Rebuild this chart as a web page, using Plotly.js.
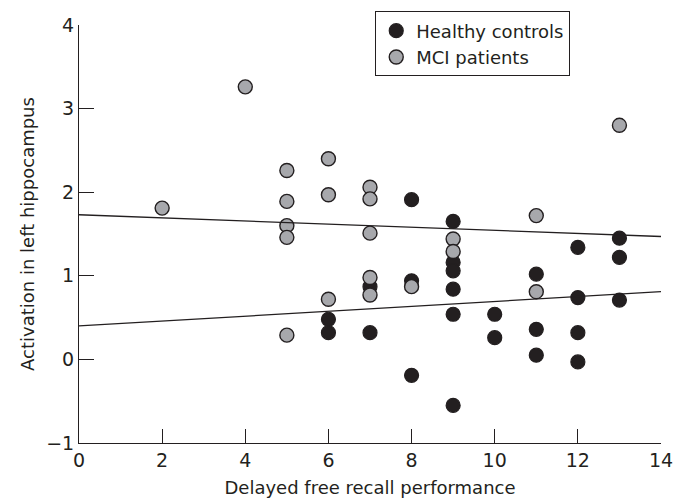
<!DOCTYPE html>
<html><head><meta charset="utf-8">
<script src="https://cdn.plot.ly/plotly-3.0.1.min.js"></script>
<style>html,body{margin:0;padding:0;background:#fff}#chart{width:687px;height:498px}</style>
</head><body><div id="chart"></div>
<script>
const healthyX = [6,6,7,7,8,8,8,9,9,9,9,9,9,10,10,11,11,11,12,12,12,12,13,13,13];
const healthyY = [0.48,0.32,0.87,0.32,1.91,0.94,-0.19,1.65,1.16,1.06,0.84,0.54,-0.55,0.54,0.26,1.02,0.36,0.05,1.34,0.74,0.32,-0.03,1.45,1.22,0.71];
const mciX = [2,4,5,5,5,5,5,6,6,6,7,7,7,7,7,8,9,9,11,11,13];
const mciY = [1.81,3.26,2.26,1.89,1.60,1.46,0.29,2.40,1.97,0.72,2.06,1.92,1.51,0.98,0.77,0.87,1.44,1.29,1.72,0.81,2.80];
const fitX = [0,14];
const fitUpperY = [1.73,1.47];
const fitLowerY = [0.40,0.81];
const xTicks = [0,2,4,6,8,10,12,14];
const yTicks = [-1,0,1,2,3,4];
const yTickText = ['\u22121','0','1','2','3','4'];

const dark = '#231f20';
const gray = '#a7a8ac';
const fontFam = '"DejaVu Sans", sans-serif';

const traces = [
  {x: healthyX, y: healthyY, mode: 'markers', type: 'scatter', name: 'Healthy controls',
   marker: {size: 14, color: dark, line: {color: dark, width: 1.2}}},
  {x: mciX, y: mciY, mode: 'markers', type: 'scatter', name: 'MCI patients',
   marker: {size: 14, color: gray, line: {color: dark, width: 1.4}}},
  {x: fitX, y: fitUpperY, mode: 'lines', type: 'scatter', showlegend: false,
   line: {color: dark, width: 1.3}, hoverinfo: 'skip'},
  {x: fitX, y: fitLowerY, mode: 'lines', type: 'scatter', showlegend: false,
   line: {color: dark, width: 1.3}, hoverinfo: 'skip'}
];

const layout = {
  width: 687, height: 498,
  margin: {l: 79, r: 26, t: 24, b: 55, pad: 0},
  paper_bgcolor: '#fff', plot_bgcolor: '#fff',
  font: {family: fontFam, size: 18, color: dark},
  showlegend: true,
  legend: {x: 0.509, y: 1.03, xanchor: 'left', yanchor: 'top',
    bgcolor: '#fff', bordercolor: dark, borderwidth: 1,
    font: {family: fontFam, size: 18, color: dark}, tracegroupgap: 0,
    itemwidth: 30},
  xaxis: {range: [0, 14], tickvals: xTicks, ticktext: xTicks.map(String),
    showgrid: false, zeroline: false, showline: true, linecolor: dark, linewidth: 1,
    ticks: 'inside', ticklen: 14, tickwidth: 1, tickcolor: dark,
    tickfont: {family: fontFam, size: 19, color: dark},
    title: {text: 'Delayed free recall performance', font: {family: fontFam, size: 18, color: dark}, standoff: 11},
    fixedrange: true},
  yaxis: {range: [-1, 4], tickvals: yTicks, ticktext: yTickText,
    showgrid: false, zeroline: false, showline: true, linecolor: dark, linewidth: 1,
    ticks: 'inside', ticklen: 15, tickwidth: 1, tickcolor: dark,
    tickfont: {family: fontFam, size: 19, color: dark},
    title: {text: 'Activation in left hippocampus', font: {family: fontFam, size: 18, color: dark}, standoff: 6},
    fixedrange: true}
};

Plotly.newPlot('chart', traces, layout, {displayModeBar: false, staticPlot: true});
</script>
</body></html>
